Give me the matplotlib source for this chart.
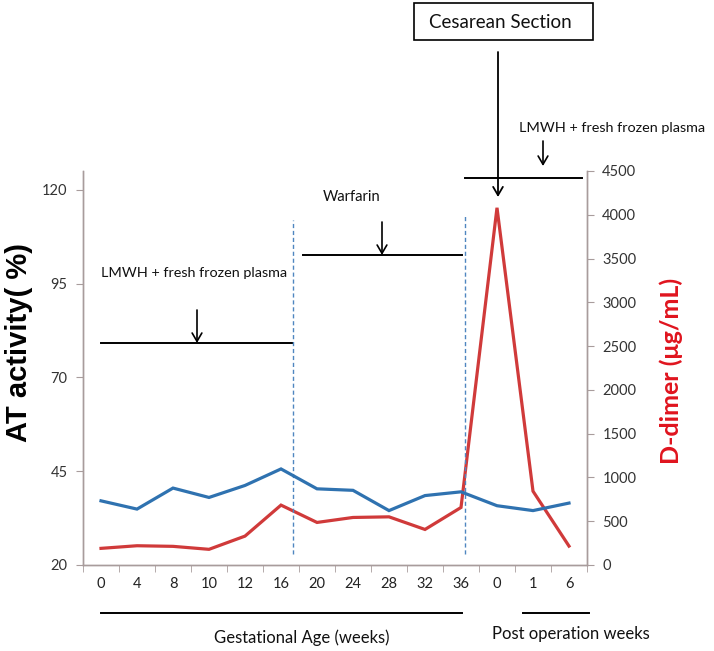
import matplotlib
matplotlib.use("Agg")
import matplotlib.pyplot as plt
from matplotlib.patches import FancyArrowPatch, Rectangle
from matplotlib.lines import Line2D

# ---- data ----
categories = ["0", "4", "8", "10", "12", "16", "20", "24", "28", "32", "36", "0", "1", "6"]
at_activity = [37.1, 34.9, 40.5, 38.0, 41.2, 45.6, 40.3, 39.9, 34.5, 38.5, 39.5, 35.8, 34.5, 36.5]
d_dimer = [190, 220, 213, 179, 330, 684, 486, 543, 550, 406, 657, 4080, 843, 216]
left_ticks = [20, 45, 70, 95, 120]
right_ticks = list(range(0, 5000, 500))

W, H = 714, 651
fig = plt.figure(figsize=(W / 100, H / 100), dpi=100)
fig.patch.set_facecolor("white")

FONT = "Lato"
BLUE = "#2F72B0"
RED = "#D03A3A"
SPINE = "#A89C9C"

def fx(px):
    return px / W

def fy(py):
    return 1 - py / H

L, R, T, B = 83, 587, 171, 565
ax = fig.add_axes([fx(L), fy(B), (R - L) / W, (B - T) / H])
ax2 = ax.twinx()

x = list(range(len(categories)))
ax.plot(x, at_activity, color=BLUE, lw=2.3, solid_joinstyle="miter", zorder=3)
ax2.plot(x, d_dimer, color=RED, lw=2.3, solid_joinstyle="miter", zorder=3)

ax.set_xlim(-0.5, len(categories) - 0.5)
ax.set_ylim(20, 125)
ax2.set_ylim(0, 4500)
ax.set_yticks(left_ticks)
ax2.set_yticks(right_ticks)
ax.set_xticks(x)
ax.set_xticklabels(categories)
ax.set_xticks([i - 0.5 for i in range(len(categories) + 1)], minor=True)
ax.tick_params(axis="x", which="major", length=0, pad=9, labelsize=10.5, labelcolor="#222222")
ax.tick_params(axis="x", which="minor", length=5, color=SPINE, direction="out")
ax.tick_params(axis="y", length=5, color=SPINE, labelsize=10.5, labelcolor="#333333", pad=6)
ax2.tick_params(axis="y", length=5, color=SPINE, labelsize=10.5, labelcolor="#333333", pad=6)
for a in (ax, ax2):
    a.spines["top"].set_visible(False)
    for s in ("left", "right", "bottom"):
        a.spines[s].set_color(SPINE)
        a.spines[s].set_linewidth(1.0)
    for lab in a.get_xticklabels() + a.get_yticklabels():
        lab.set_fontfamily(FONT)
ax2.set_zorder(ax.get_zorder() - 1)
ax.set_zorder(2)
ax.patch.set_visible(False)

# dashed phase separators (in axis data coordinates)
for xc, ytop in [(5.33, 111.9), (10.11, 113.0)]:
    ax.plot([xc, xc], [22.9, ytop], color="#4F86C0", lw=1.0, ls=(0, (3, 2)), zorder=2)

# axis labels
fig.text(fx(19), fy(343), "AT activity( %)", rotation=90, ha="center", va="center",
         fontsize=21, fontweight="bold", family="Liberation Sans", color="black")
fig.text(fx(671), fy(371), "D-dimer (\u03bcg/mL)", rotation=90, ha="center", va="center",
         fontsize=18, fontweight="bold", family=FONT, color="#E0141E")

def hline(x0, x1, y, lw=1.4):
    fig.add_artist(Line2D([fx(x0), fx(x1)], [fy(y), fy(y)], color="black", lw=lw,
                          transform=fig.transFigure))

def arrow(x0, y0, y1, lw=1.2):
    fig.add_artist(FancyArrowPatch((fx(x0), fy(y0)), (fx(x0), fy(y1)),
                                   transform=fig.transFigure, arrowstyle="->,head_length=6,head_width=3.5",
                                   color="black", lw=lw, shrinkA=0, shrinkB=0,
                                   mutation_scale=1))

# LMWH (antepartum)
fig.text(fx(194.5), fy(273), "LMWH + fresh frozen plasma", ha="center", va="center",
         fontsize=10.4, family=FONT, color="#111111")
hline(101, 293, 343)
arrow(197, 310, 343)

# Warfarin
fig.text(fx(323), fy(197), "Warfarin", ha="left", va="center", fontsize=10.6, family=FONT, color="#111111")
hline(303, 462, 255)
arrow(382, 222, 255)

# Cesarean section
fig.add_artist(Rectangle((fx(414), fy(40)), fx(593) - fx(414), fy(3) - fy(40),
                         transform=fig.transFigure, fill=False, ec="black", lw=1.2))
fig.text(fx(500), fy(22), "Cesarean Section", ha="center", va="center", fontsize=13.5,
         family=FONT, color="#111111")
arrow(498, 52, 197, lw=1.3)
hline(465, 582, 178)

# LMWH postpartum
fig.text(fx(612.5), fy(128), "LMWH + fresh frozen plasma", ha="center", va="center",
         fontsize=10.4, family=FONT, color="#111111")
arrow(543, 141, 166)

# bottom group lines
hline(101, 462, 613, lw=1.4)
hline(523, 589, 613, lw=1.4)
fig.text(fx(302), fy(638), "Gestational Age (weeks)", ha="center", va="center",
         fontsize=12, family=FONT, color="#111111")
fig.text(fx(571), fy(634), "Post operation weeks", ha="center", va="center",
         fontsize=12, family=FONT, color="#111111")

fig.savefig("out.png", dpi=100, facecolor="white")
